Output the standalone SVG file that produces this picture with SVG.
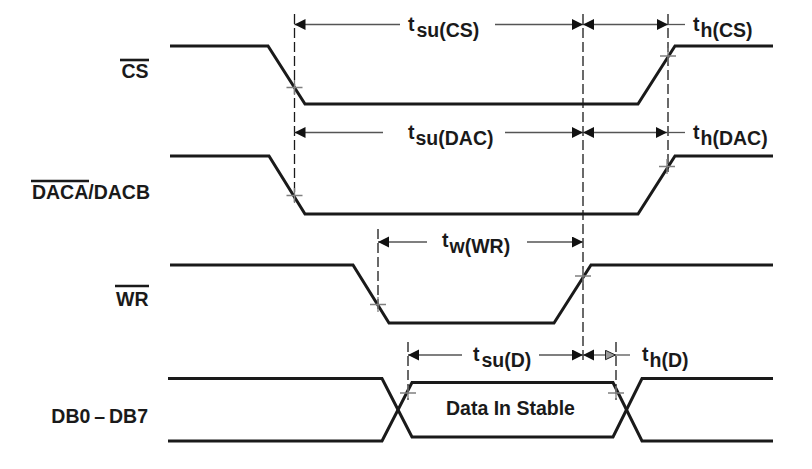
<svg xmlns="http://www.w3.org/2000/svg" width="812" height="469" viewBox="0 0 812 469">
<style>
.sig{fill:none;stroke:#1a1a1a;stroke-width:3;stroke-linejoin:miter;stroke-linecap:butt}
.dash{fill:none;stroke:#1a1a1a;stroke-width:1.3;stroke-dasharray:10 4}
.tick{fill:none;stroke:#808080;stroke-width:1.3}
.dim{fill:none;stroke:#555;stroke-width:1.3}
.ov{stroke:#1a1a1a;stroke-width:2.6}
.lbl{font-family:"Liberation Sans",Arial,sans-serif;font-weight:bold;font-size:19.5px;fill:#1a1a1a}
</style>
<defs>
<marker id="ah" markerUnits="userSpaceOnUse" markerWidth="12" markerHeight="12" refX="11" refY="5.5" orient="auto-start-reverse" viewBox="0 0 12 12">
<path d="M0,0 L11,5.5 L0,11 z" fill="#111"/>
</marker>
<marker id="ahh" markerUnits="userSpaceOnUse" markerWidth="12" markerHeight="12" refX="11" refY="5.5" orient="auto" viewBox="0 0 12 12">
<path d="M0.5,0.8 L10.5,5.5 L0.5,10.2 z" fill="#9a9a9a" stroke="#222" stroke-width="1"/>
</marker>
</defs>
<rect width="812" height="469" fill="#fff"/>

<g id="guides">
<line class="dash" x1="294.5" y1="14" x2="294.5" y2="202"/>
<line class="dash" x1="583" y1="14" x2="583" y2="363"/>
<line class="dash" x1="668" y1="14" x2="668" y2="172"/>
<line class="dash" x1="378" y1="229" x2="378" y2="312"/>
<line class="dash" x1="408" y1="342" x2="408" y2="400"/>
<line class="dash" x1="616" y1="342" x2="616" y2="400"/>
</g>

<g id="cs">
<path class="sig" d="M170,46 H268 L305,104 H638 L675,46 H773"/>
<path class="tick" d="M286.5,87.5 H302.5 M294.5,80 V95 M660,56 H676 M668,48 V63"/>
<text class="lbl" x="148.5" y="78" text-anchor="end">CS</text>
<line class="ov" x1="120" y1="60" x2="149" y2="60"/>
</g>

<g id="daca">
<path class="sig" d="M170,156 H269 L305,214 H638 L675,156 H773"/>
<path class="tick" d="M286.5,195.5 H302.5 M294.5,188 V203 M659,166.5 H675 M667,159 V174"/>
<text class="lbl" x="150" y="199" text-anchor="end">DACA/DACB</text>
<line class="ov" x1="31" y1="181" x2="89" y2="181"/>
</g>

<g id="wr">
<path class="sig" d="M170,265 H353 L389,323 H554 L591,265 H773"/>
<path class="tick" d="M370,304.5 H386 M378,297 V312 M575,276 H591 M583,269 V284"/>
<text class="lbl" x="148.5" y="306" text-anchor="end">WR</text>
<line class="ov" x1="115" y1="286" x2="149" y2="286"/>
</g>

<g id="db">
<path class="sig" d="M168,378.5 H382 L412,437 H613 L642,378.5 H773"/>
<path class="sig" d="M168,441 H382 L412,382.5 H613 L642,441 H773"/>
<path class="tick" d="M400,393 H416 M408,386 V400 M608,393 H624 M616,386 V400"/>
<text class="lbl" x="148" y="423" text-anchor="end">DB0&#8201;–&#8201;DB7</text>
<text class="lbl" x="446" y="415">Data In Stable</text>
</g>

<g id="connectors">
<path class="dim" d="M400,24.5 H294.5" marker-end="url(#ah)"/>
<path class="dim" d="M495,24.5 H583" marker-end="url(#ah)"/>
<path class="dim" d="M583,24.5 H668" marker-start="url(#ah)" marker-end="url(#ah)"/>
<path class="dim" d="M668,24.5 H685"/>
<text class="lbl" x="408" y="30.5">t<tspan dx="2" dy="6">su(CS)</tspan></text>
<text class="lbl" x="693" y="30.5">t<tspan dx="1" dy="6">h(CS)</tspan></text>

<path class="dim" d="M383,132.5 H294.5" marker-end="url(#ah)"/>
<path class="dim" d="M505,132.5 H583" marker-end="url(#ah)"/>
<path class="dim" d="M583,132.5 H667" marker-start="url(#ah)" marker-end="url(#ah)"/>
<path class="dim" d="M667,132.5 H685"/>
<text class="lbl" x="408" y="138.5">t<tspan dx="1" dy="6">su(DAC)</tspan></text>
<text class="lbl" x="693" y="138.5">t<tspan dx="1" dy="6">h(DAC)</tspan></text>

<path class="dim" d="M427,242 H378" marker-end="url(#ah)"/>
<path class="dim" d="M527,242 H583" marker-end="url(#ah)"/>
<text class="lbl" x="442" y="247">t<tspan dx="1" dy="6">w(WR)</tspan></text>

<path class="dim" d="M462,355 H408" marker-end="url(#ah)"/>
<path class="dim" d="M539,355 H583" marker-end="url(#ah)"/>
<path class="dim" d="M594,355 H583" marker-end="url(#ah)"/>
<path class="dim" d="M594,355 H616" marker-end="url(#ahh)"/>
<path class="dim" d="M616,355 H630"/>
<text class="lbl" x="473" y="360.5">t<tspan dx="2" dy="6">su(D)</tspan></text>
<text class="lbl" x="642" y="360.5">t<tspan dx="1" dy="6">h(D)</tspan></text>
</g>
</svg>
